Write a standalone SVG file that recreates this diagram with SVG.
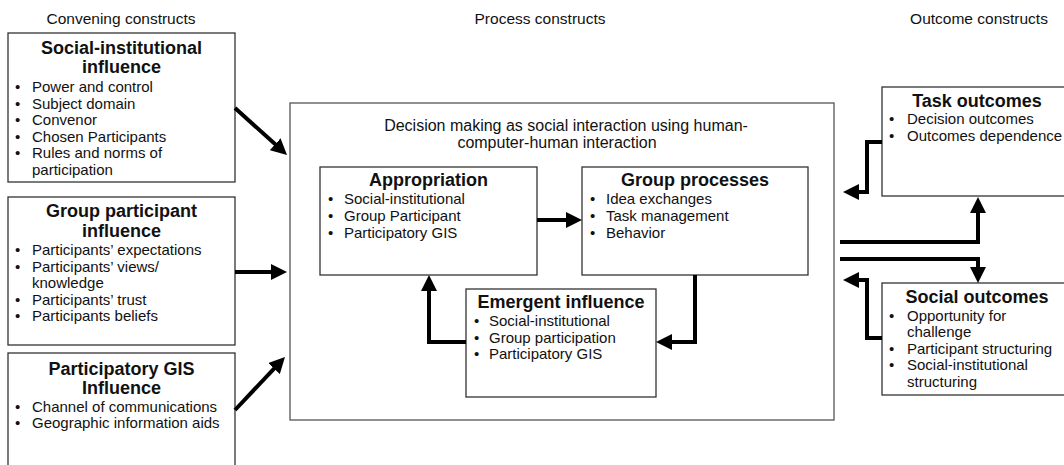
<svg xmlns="http://www.w3.org/2000/svg" width="1064" height="465" viewBox="0 0 1064 465">
<style>
text{font-family:"Liberation Sans",Arial,sans-serif;fill:#111}
.h{font-size:15.5px;text-anchor:middle}
.t{font-size:18px;font-weight:bold;text-anchor:middle}
.b{font-size:15px}
.c{font-size:16px;text-anchor:middle}
.box{fill:#fff;stroke:#333;stroke-width:1.3}
.conn{fill:none;stroke:#000;stroke-width:4;marker-end:url(#ah)}
</style>
<defs>
<marker id="ah" markerUnits="userSpaceOnUse" viewBox="0 0 16 16" refX="8" refY="8" markerWidth="16" markerHeight="16" orient="auto">
<path d="M0,0 L16,8 L0,16 z" fill="#000"/>
</marker>
</defs>
<rect width="1064" height="465" fill="#fff"/>

<g id="headers">
<text class="h" x="121" y="24">Convening constructs</text>
<text class="h" x="540" y="24">Process constructs</text>
<text class="h" x="979" y="24">Outcome constructs</text>
</g>

<g id="social-institutional">
<rect class="box" x="8" y="33" width="227" height="149"/>
<text class="t" x="121.5" y="54">Social-institutional</text>
<text class="t" x="121.5" y="73.3">influence</text>
<text class="b" x="15" y="92.3">•</text><text class="b" x="32" y="92.3">Power and control</text>
<text class="b" x="15" y="108.8">•</text><text class="b" x="32" y="108.8">Subject domain</text>
<text class="b" x="15" y="125.3">•</text><text class="b" x="32" y="125.3">Convenor</text>
<text class="b" x="15" y="141.8">•</text><text class="b" x="32" y="141.8">Chosen Participants</text>
<text class="b" x="15" y="158.3">•</text><text class="b" x="32" y="158.3">Rules and norms of</text>
<text class="b" x="32" y="174.8">participation</text>
</g>

<g id="group-participant">
<rect class="box" x="8" y="197" width="227" height="148"/>
<text class="t" x="121.5" y="216.7">Group participant</text>
<text class="t" x="121.5" y="236.7">influence</text>
<text class="b" x="15" y="255.3">•</text><text class="b" x="32" y="255.3">Participants’ expectations</text>
<text class="b" x="15" y="271.8">•</text><text class="b" x="32" y="271.8">Participants’ views/</text>
<text class="b" x="32" y="288.3">knowledge</text>
<text class="b" x="15" y="304.8">•</text><text class="b" x="32" y="304.8">Participants’ trust</text>
<text class="b" x="15" y="321.3">•</text><text class="b" x="32" y="321.3">Participants beliefs</text>
</g>

<g id="participatory-gis">
<rect class="box" x="8" y="353" width="227" height="130"/>
<text class="t" x="121.5" y="375">Participatory GIS</text>
<text class="t" x="121.5" y="394">Influence</text>
<text class="b" x="15" y="411.7">•</text><text class="b" x="32" y="411.7">Channel of communications</text>
<text class="b" x="15" y="428">•</text><text class="b" x="32" y="428">Geographic information aids</text>
</g>

<g id="process">
<rect class="box" x="290" y="103" width="544" height="317" style="stroke:#555"/>
<text class="c" x="566" y="130.7">Decision making as social interaction using human-</text>
<text class="c" x="557" y="148.3">computer-human interaction</text>
</g>

<g id="appropriation">
<rect class="box" x="320" y="167" width="217" height="108"/>
<text class="t" x="428.5" y="186">Appropriation</text>
<text class="b" x="328" y="204.3">•</text><text class="b" x="344" y="204.3">Social-institutional</text>
<text class="b" x="328" y="221">•</text><text class="b" x="344" y="221">Group Participant</text>
<text class="b" x="328" y="237.7">•</text><text class="b" x="344" y="237.7">Participatory GIS</text>
</g>

<g id="group-processes">
<rect class="box" x="582" y="167" width="226" height="108"/>
<text class="t" x="695" y="186">Group processes</text>
<text class="b" x="590" y="204.3">•</text><text class="b" x="606" y="204.3">Idea exchanges</text>
<text class="b" x="590" y="221">•</text><text class="b" x="606" y="221">Task management</text>
<text class="b" x="590" y="237.7">•</text><text class="b" x="606" y="237.7">Behavior</text>
</g>

<g id="emergent-influence">
<rect class="box" x="466" y="289" width="190" height="108"/>
<text class="t" x="561" y="308.3">Emergent influence</text>
<text class="b" x="474" y="326">•</text><text class="b" x="489" y="326">Social-institutional</text>
<text class="b" x="474" y="342.7">•</text><text class="b" x="489" y="342.7">Group participation</text>
<text class="b" x="474" y="359.3">•</text><text class="b" x="489" y="359.3">Participatory GIS</text>
</g>

<g id="task-outcomes">
<rect class="box" x="882" y="87" width="200" height="109"/>
<text class="t" x="977" y="106.7">Task outcomes</text>
<text class="b" x="889" y="124.3">•</text><text class="b" x="907" y="124.3">Decision outcomes</text>
<text class="b" x="889" y="140.7">•</text><text class="b" x="907" y="140.7">Outcomes dependence</text>
</g>

<g id="social-outcomes">
<rect class="box" x="882" y="283" width="200" height="112"/>
<text class="t" x="977" y="303.3">Social outcomes</text>
<text class="b" x="889" y="320.7">•</text><text class="b" x="907" y="320.7">Opportunity for</text>
<text class="b" x="907" y="337.2">challenge</text>
<text class="b" x="889" y="353.7">•</text><text class="b" x="907" y="353.7">Participant structuring</text>
<text class="b" x="889" y="370.2">•</text><text class="b" x="907" y="370.2">Social-institutional</text>
<text class="b" x="907" y="386.7">structuring</text>
</g>

<g id="connectors">
<path class="conn" d="M235,108 L281.1,149.6"/>
<path class="conn" d="M235,272 L279,272"/>
<path class="conn" d="M235,410 L279.5,362.8"/>
<path class="conn" d="M537,220 L574,220"/>
<path class="conn" d="M466,342 H429 V283"/>
<path class="conn" d="M695,275 V342 H664"/>
<path class="conn" d="M882,142 H867 V192 H851"/>
<path class="conn" d="M840,242 H978 V205"/>
<path class="conn" d="M840,259 H978 V275"/>
<path class="conn" d="M882,338 H867 V280 H851"/>
</g>
</svg>
